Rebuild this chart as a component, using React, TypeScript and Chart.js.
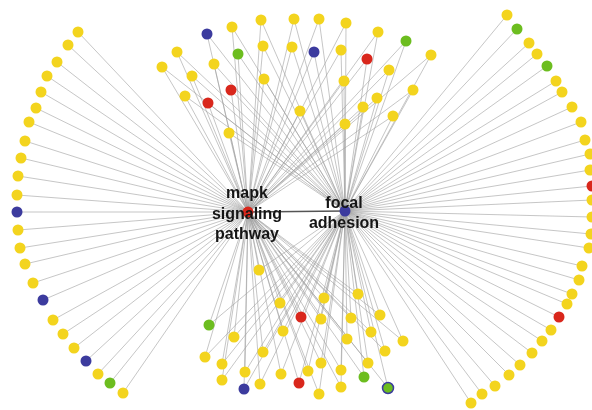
import React, { useEffect, useRef } from "react";
import { Chart, registerables } from "chart.js";

Chart.register(...registerables);

// Hub nodes
const hubNames = ["mapk signaling pathway", "focal adhesion"];
const hubX = [248, 345];
const hubY = [212, 211];
const hubColors = ["R", "B"];
const hubLabelLines = [["mapk", "signaling", "pathway"], ["focal", "adhesion"]];

// Genes linked only to "mapk signaling pathway" (left arc)
const leftX = [78, 68, 57, 47, 41, 36, 29, 25, 21, 18, 17, 17, 18, 20, 25, 33, 43, 53, 63, 74, 86, 98, 110, 123];
const leftY = [32, 45, 62, 76, 92, 108, 122, 141, 158, 176, 195, 212, 230, 248, 264, 283, 300, 320, 334, 348, 361, 374, 383, 393];
const leftC = ["Y", "Y", "Y", "Y", "Y", "Y", "Y", "Y", "Y", "Y", "Y", "B", "Y", "Y", "Y", "Y", "B", "Y", "Y", "Y", "B", "Y", "G", "Y"];

// Genes linked only to "focal adhesion" (right arc)
const rightX = [507, 517, 529, 537, 547, 556, 562, 572, 581, 585, 590, 590, 592, 592, 592, 591, 589, 582, 579, 572, 567, 559, 551, 542, 532, 520, 509, 495, 482, 471];
const rightY = [15, 29, 43, 54, 66, 81, 92, 107, 122, 140, 154, 170, 186, 200, 217, 234, 248, 266, 280, 294, 304, 317, 330, 341, 353, 365, 375, 386, 394, 403];
const rightC = ["Y", "G", "Y", "Y", "G", "Y", "Y", "Y", "Y", "Y", "Y", "Y", "R", "Y", "Y", "Y", "Y", "Y", "Y", "Y", "Y", "R", "Y", "Y", "Y", "Y", "Y", "Y", "Y", "Y"];

// Shared genes (top cluster)
const topX = [207, 232, 261, 294, 319, 346, 378, 406, 431, 177, 162, 238, 263, 292, 314, 341, 367, 389, 413, 214, 192, 231, 264, 344, 377, 363, 393, 185, 208, 300, 345, 229];
const topY = [34, 27, 20, 19, 19, 23, 32, 41, 55, 52, 67, 54, 46, 47, 52, 50, 59, 70, 90, 64, 76, 90, 79, 81, 98, 107, 116, 96, 103, 111, 124, 133];
const topC = ["B", "Y", "Y", "Y", "Y", "Y", "Y", "G", "Y", "Y", "Y", "G", "Y", "Y", "B", "Y", "R", "Y", "Y", "Y", "Y", "R", "Y", "Y", "Y", "Y", "Y", "Y", "R", "Y", "Y", "Y"];

// Shared genes (bottom cluster)
const botX = [259, 280, 324, 358, 380, 209, 301, 321, 351, 371, 403, 234, 283, 347, 385, 205, 222, 263, 321, 368, 245, 281, 308, 341, 364, 222, 244, 260, 299, 341, 319, 388];
const botY = [270, 303, 298, 294, 315, 325, 317, 319, 318, 332, 341, 337, 331, 339, 351, 357, 364, 352, 363, 363, 372, 374, 371, 370, 377, 380, 389, 384, 383, 387, 394, 388];
const botC = ["Y", "Y", "Y", "Y", "Y", "G", "R", "Y", "Y", "Y", "Y", "Y", "Y", "Y", "Y", "Y", "Y", "Y", "Y", "Y", "Y", "Y", "Y", "Y", "G", "Y", "B", "Y", "R", "Y", "Y", "GB"];

const fillMap: Record<string, string> = {
  Y: "#f3d41e",
  R: "#d9271c",
  B: "#3c3b9e",
  G: "#6cbd1f",
  GB: "#6cbd1f",
};
const borderMap: Record<string, string> = {
  Y: "#f3d41e",
  R: "#d9271c",
  B: "#3c3b9e",
  G: "#6cbd1f",
  GB: "#3c3b9e",
};

type P = { x: number; y: number };

function edgeData(xs: number[], ys: number[], hubs: number[]): P[] {
  const out: P[] = [];
  for (let i = 0; i < xs.length; i++) {
    for (const h of hubs) {
      out.push({ x: hubX[h], y: hubY[h] });
      out.push({ x: xs[i], y: ys[i] });
      out.push({ x: NaN, y: NaN });
    }
  }
  return out;
}

const labelPlugin = {
  id: "hubLabels",
  afterDatasetsDraw(chart: any) {
    const ctx = chart.ctx;
    const xs = chart.scales.x;
    const ys = chart.scales.y;
    ctx.save();
    ctx.font = "bold 16px 'Liberation Sans', Arial, sans-serif";
    ctx.fillStyle = "#151515";
    ctx.textAlign = "center";
    ctx.textBaseline = "middle";
    hubLabelLines.forEach((lines, h) => {
      const cx = xs.getPixelForValue(hubX[h]) - 1;
      const cy = ys.getPixelForValue(hubY[h]);
      const lh = 20.5;
      const start = cy - ((lines.length - 1) * lh) / 2 + 2.5;
      lines.forEach((t, i) => ctx.fillText(t, cx, start + i * lh));
    });
    ctx.restore();
  },
};

export default function App() {
  const ref = useRef<HTMLCanvasElement>(null);
  useEffect(() => {
    document.body.style.margin = "0";
    const allX = [...leftX, ...rightX, ...topX, ...botX, ...hubX];
    const allY = [...leftY, ...rightY, ...topY, ...botY, ...hubY];
    const allC = [...leftC, ...rightC, ...topC, ...botC, ...hubColors];
    const nodes = allX.map((x, i) => ({ x, y: allY[i] }));

    const edges: P[] = [
      ...edgeData(leftX, leftY, [0]),
      ...edgeData(rightX, rightY, [1]),
      ...edgeData(topX, topY, [0, 1]),
      ...edgeData(botX, botY, [0, 1]),
    ];
    const hubEdge: P[] = [
      { x: hubX[0], y: hubY[0] },
      { x: hubX[1], y: hubY[1] },
    ];

    const chart = new Chart(ref.current!, {
      type: "scatter",
      data: {
        datasets: [
          {
            label: "genes",
            data: nodes,
            pointRadius: 5.5,
            pointBackgroundColor: allC.map((c) => fillMap[c]),
            pointBorderColor: allC.map((c) => borderMap[c]),
            pointBorderWidth: allC.map((c) => (c === "GB" ? 1.5 : 0)),
            showLine: false,
            order: 0,
          },
          {
            label: hubNames.join(" - "),
            data: hubEdge,
            showLine: true,
            borderColor: "#555555",
            borderWidth: 1.5,
            pointRadius: 0,
            order: 1,
          },
          {
            label: "edges",
            data: edges,
            showLine: true,
            spanGaps: false,
            borderColor: "rgba(160,160,160,0.75)",
            borderWidth: 0.8,
            pointRadius: 0,
            order: 2,
          },
        ],
      },
      options: {
        responsive: false,
        animation: false,
        layout: { padding: 0, autoPadding: false },
        plugins: { legend: { display: false }, tooltip: { enabled: false } },
        scales: {
          x: { type: "linear", min: 0, max: 592, display: false },
          y: { type: "linear", min: 0, max: 410, reverse: true, display: false },
        },
      },
      plugins: [labelPlugin],
    });
    return () => chart.destroy();
  }, []);
  return <canvas ref={ref} width={592} height={410} style={{ display: "block" }} />;
}
